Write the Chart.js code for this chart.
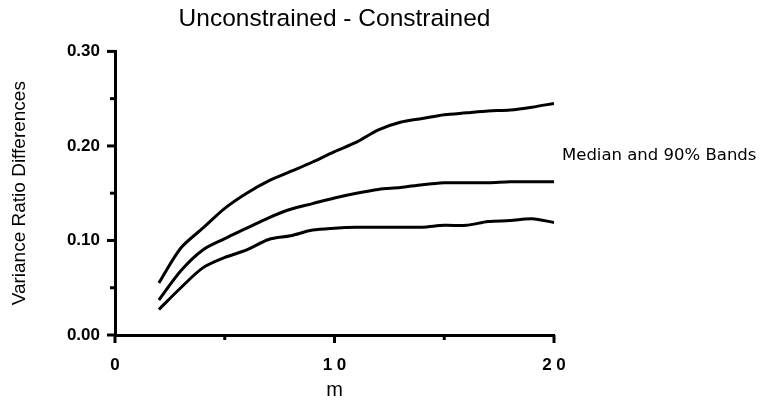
<!DOCTYPE html>
<html>
<head>
<meta charset="utf-8">
<script src="https://cdn.jsdelivr.net/npm/chart.js@4/dist/chart.umd.min.js"></script>
<style>
  html, body { margin: 0; padding: 0; background: #fff; }
  #wrap { width: 768px; height: 402px; }
</style>
</head>
<body>
<div id="wrap"><canvas id="c" width="768" height="402"></canvas></div>
<script>
// ---- data ----
const mValues = [2,3,4,5,6,7,8,9,10,11,12,13,14,15,16,17,18,19,20];
const upperBand = [0.055,0.092,0.113,0.134,0.150,0.163,0.173,0.183,0.194,0.204,0.217,0.225,0.229,0.233,0.235,0.237,0.238,0.241,0.245];
const median    = [0.037,0.068,0.090,0.102,0.113,0.124,0.133,0.139,0.145,0.150,0.154,0.156,0.159,0.161,0.161,0.161,0.162,0.162,0.162];
const lowerBand = [0.027,0.050,0.071,0.082,0.090,0.101,0.105,0.111,0.113,0.114,0.114,0.114,0.114,0.116,0.116,0.120,0.121,0.123,0.119];
const xTickLabels = {0: '0', 10: '1 0', 20: '2 0'};
const yTickLabels = {0: '0.00', 10: '0.10', 20: '0.20', 30: '0.30'};
const titleText = 'Unconstrained - Constrained';
const xTitle = 'm';
const yTitle = 'Variance Ratio Differences';
const noteText = 'Median and 90% Bands';

const toPts = arr => arr.map((v, i) => ({x: mValues[i], y: v}));

const tickPlugin = {
  id: 'tickMarks',
  afterDraw(chart) {
    const ctx = chart.ctx;
    const xs = chart.scales.x, ys = chart.scales.y;
    const area = chart.chartArea;
    ctx.save();
    ctx.strokeStyle = '#000';
    ctx.lineWidth = 3;
    ys.ticks.forEach(t => {
      const p = ys.getPixelForValue(t.value);
      const major = Math.round(t.value * 100) % 10 === 0;
      const len = major ? 8 : 5;
      ctx.beginPath();
      ctx.moveTo(area.left - len, p);
      ctx.lineTo(area.left, p);
      ctx.stroke();
    });
    xs.ticks.forEach(t => {
      const p = xs.getPixelForValue(t.value);
      const major = t.value % 10 === 0;
      const len = major ? 8 : 5;
      ctx.beginPath();
      ctx.moveTo(p, area.bottom);
      ctx.lineTo(p, area.bottom + len);
      ctx.stroke();
    });
    // note text
    ctx.fillStyle = '#000';
    ctx.font = '16.5px "DejaVu Sans"';
    ctx.textBaseline = 'middle';
    ctx.textAlign = 'left';
    ctx.fillText(noteText, area.right + 8, 156);
    ctx.restore();
  }
};

new Chart(document.getElementById('c'), {
  type: 'line',
  data: {
    datasets: [
      {data: toPts(upperBand)},
      {data: toPts(median)},
      {data: toPts(lowerBand)}
    ]
  },
  options: {
    responsive: false,
    animation: false,
    devicePixelRatio: 1,
    layout: {padding: {left: 0, right: 214, top: 0, bottom: 0}},
    elements: {
      line: {borderColor: '#000', borderWidth: 3, tension: 0.3, fill: false},
      point: {radius: 0}
    },
    plugins: {
      legend: {display: false},
      tooltip: {enabled: false},
      title: {
        display: true,
        text: titleText,
        fullSize: false,
        color: '#000',
        font: {family: 'Liberation Sans', size: 24.5, weight: 'normal', lineHeight: 1.2},
        padding: {top: 5, bottom: 17}
      }
    },
    scales: {
      x: {
        type: 'linear',
        min: 0, max: 20,
        grid: {display: false, drawTicks: false},
        border: {display: true, color: '#000', width: 3},
        ticks: {
          stepSize: 5,
          color: '#000',
          padding: 20,
          font: {family: 'Liberation Sans', size: 17, weight: 'bold'},
          callback: v => xTickLabels[v] !== undefined ? xTickLabels[v] : ''
        },
        title: {
          display: true, text: xTitle, color: '#000',
          font: {family: 'Liberation Sans', size: 20, weight: 'normal'},
          padding: {top: 1, bottom: 0}
        },
        afterFit(scale) { scale.height = 67; }
      },
      y: {
        min: 0, max: 0.3,
        grid: {display: false, drawTicks: false},
        border: {display: true, color: '#000', width: 3},
        ticks: {
          stepSize: 0.05,
          color: '#000',
          padding: 15,
          font: {family: 'Liberation Sans', size: 17, weight: 'bold'},
          callback: v => {
            const k = Math.round(v * 100);
            return yTickLabels[k] !== undefined ? yTickLabels[k] : '';
          }
        },
        title: {
          display: true, text: yTitle, color: '#000',
          font: {family: 'Liberation Sans', size: 19, weight: 'normal'},
          padding: {top: 8, bottom: 0}
        },
        afterFit(scale) { scale.width = 115; }
      }
    }
  },
  plugins: [tickPlugin]
});
</script>
</body>
</html>
